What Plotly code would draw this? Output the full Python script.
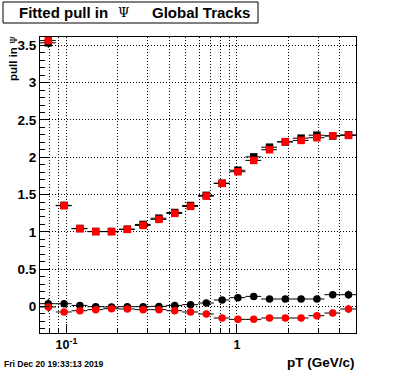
import math
import plotly.graph_objects as go

# ---------------- data ----------------
pt_edges = [0.07, 0.08665, 0.10727, 0.13279, 0.16439, 0.20350, 0.25192, 0.31185,
            0.38605, 0.47790, 0.59161, 0.73237, 0.90661, 1.12232, 1.38934, 1.71990,
            2.12911, 2.63568, 3.26278, 4.03908, 5.0]

sigma_black = [3.535, 1.355, 1.045, 1.005, 1.005, 1.035, 1.099, 1.183, 1.259, 1.353,
               1.489, 1.652, 1.826, 2.005, 2.135, 2.205, 2.256, 2.296, 2.285, 2.300]
sigma_red = [3.565, 1.350, 1.042, 1.002, 1.002, 1.033, 1.086, 1.167, 1.247, 1.341,
             1.478, 1.649, 1.806, 1.958, 2.101, 2.209, 2.226, 2.262, 2.289, 2.293]
mean_black = [0.036, 0.036, 0.013, -0.004, -0.008, -0.004, -0.004, 0.000, 0.013, 0.023,
              0.045, 0.086, 0.117, 0.134, 0.099, 0.099, 0.099, 0.099, 0.157, 0.157]
mean_red = [-0.008, -0.075, -0.058, -0.044, -0.031, -0.035, -0.044, -0.044, -0.058, -0.075,
            -0.102, -0.156, -0.174, -0.174, -0.156, -0.156, -0.156, -0.125, -0.089, -0.035]

err_sigma = [0.07, 0.015, 0.01, 0.01, 0.01, 0.01, 0.01, 0.01, 0.01, 0.01,
             0.015, 0.015, 0.015, 0.02, 0.02, 0.02, 0.02, 0.025, 0.03, 0.04]
err_mean = [0.07, 0.03, 0.015, 0.01, 0.01, 0.01, 0.01, 0.01, 0.01, 0.015,
            0.015, 0.015, 0.015, 0.02, 0.02, 0.02, 0.02, 0.025, 0.035, 0.055]

y_tick_step = 0.5
x_major_ticks = [0.1, 1]
x_major_text = ["10<sup>-1</sup>", "1"]
x_minor_ticks = [0.08, 0.09, 0.2, 0.3, 0.4, 0.5, 0.6, 0.7, 0.8, 0.9, 2, 3, 4]

title_left = "Fitted pull in"
title_sym = "Ψ"
title_right = "Global Tracks"
ytitle = "pull in"
xtitle = "pT (GeV/c)"
datestamp = "Fri Dec 20 19:33:13 2019"

# ---------------- geometry ----------------
W, H = 396, 372
L, R, T, B = 40, 40, 37, 39
PW, PH = W - L - R, H - T - B


def PX(p):
    return (p - L) / PW


def PY(p):
    return (H - B - p) / PH


centers = [(pt_edges[i] + pt_edges[i + 1]) / 2 for i in range(len(pt_edges) - 1)]
plus = [pt_edges[i + 1] - centers[i] for i in range(len(centers))]
minus = [centers[i] - pt_edges[i] for i in range(len(centers))]

fig = go.Figure()


def add(y, err, color, symbol):
    fig.add_trace(go.Scatter(
        x=centers, y=y, mode="markers",
        marker=dict(color=color, symbol=symbol, size=7.5, line=dict(width=0)),
        error_x=dict(type="data", symmetric=False, array=plus, arrayminus=minus,
                     color="black", thickness=1, width=0),
        error_y=dict(type="data", array=err, color="black", thickness=1, width=0),
        showlegend=False, hoverinfo="skip"))


add(sigma_black, err_sigma, "black", "square")
add(sigma_red, err_sigma, "red", "square")
add(mean_black, err_mean, "black", "circle")
add(mean_red, err_mean, "red", "circle")

FONT = "Liberation Sans, Arial, Helvetica, sans-serif"
SERIF = "DejaVu Serif, Liberation Serif, serif"
DOT = "1px,2px"

fig.update_layout(
    width=W, height=H,
    margin=dict(l=L, r=R, t=T, b=B, pad=0),
    paper_bgcolor="white", plot_bgcolor="white",
    font=dict(family=FONT, color="black"),
    showlegend=False,
    xaxis=dict(
        type="log", range=[math.log10(0.07), math.log10(5)],
        showline=True, linecolor="black", linewidth=1, mirror=True,
        ticks="inside", ticklen=9, tickcolor="black", tickwidth=1,
        tickmode="array", tickvals=x_major_ticks, ticktext=x_major_text,
        tickfont=dict(family=FONT, size=12.5, color="black", weight="bold"),
        showgrid=True, gridcolor="black", gridwidth=1, griddash=DOT,
        zeroline=False,
        minor=dict(tickmode="array", tickvals=x_minor_ticks, ticks="inside", ticklen=4,
                   tickcolor="black", tickwidth=1, showgrid=True, gridcolor="black",
                   gridwidth=1, griddash=DOT),
    ),
    yaxis=dict(
        range=[-0.357, 3.613],
        showline=True, linecolor="black", linewidth=1, mirror=True,
        ticks="inside", ticklen=9, tickcolor="black", tickwidth=1,
        tick0=0, dtick=y_tick_step,
        tickfont=dict(family=FONT, size=13.5, color="black", weight="bold"),
        showgrid=True, gridcolor="black", gridwidth=1, griddash=DOT,
        zeroline=False,
        minor=dict(dtick=0.1, ticks="inside", ticklen=5, tickcolor="black", tickwidth=1,
                   showgrid=False),
    ),
)

# title box
fig.add_shape(type="rect", xref="paper", yref="paper",
              x0=PX(3), x1=PX(258), y0=PY(23), y1=PY(2),
              line=dict(color="black", width=1), fillcolor="white", layer="above")

ann = []
ann.append(dict(text="<b>" + title_left + "</b>", x=PX(18), y=PY(12.5), xanchor="left",
                yanchor="middle", font=dict(family=FONT, size=15, color="black")))
ann.append(dict(text=title_sym, x=PX(123), y=PY(12.5), xanchor="center",
                yanchor="middle", font=dict(family=SERIF, size=13, color="black")))
ann.append(dict(text="<b>" + title_right + "</b>", x=PX(151), y=PY(12.5), xanchor="left",
                yanchor="middle", font=dict(family=FONT, size=15, color="black")))
ann.append(dict(text="<b>" + ytitle + "</b> <span style='font-family:DejaVu Serif;font-size:9px'>"
                + title_sym + "</span>",
                x=PX(13.5), y=PY(35), xanchor="center", yanchor="top", textangle=-90,
                font=dict(family=FONT, size=11.5, color="black")))
ann.append(dict(text="<b>" + xtitle + "</b>", x=PX(355.5), y=PY(362), xanchor="right",
                yanchor="middle", font=dict(family=FONT, size=13.5, color="black")))
ann.append(dict(text="<b>" + datestamp + "</b>", x=PX(3), y=PY(364), xanchor="left",
                yanchor="middle", font=dict(family=FONT, size=8.6, color="black")))

for a in ann:
    a.update(xref="paper", yref="paper", showarrow=False, borderpad=0)
    fig.add_annotation(**a)

fig.write_html("out.html",
               config={"displayModeBar": False, "staticPlot": True},
               post_script="document.body.style.margin='0';document.body.style.padding='0';"
                           "document.documentElement.style.overflow='hidden';")
